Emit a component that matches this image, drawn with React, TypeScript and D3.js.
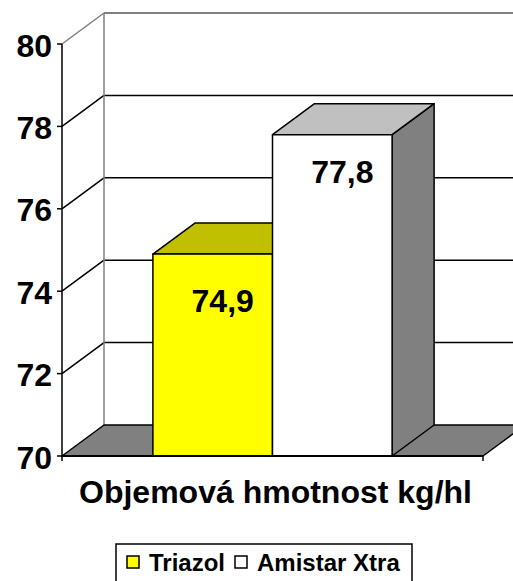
import React from "react";
import * as d3 from "d3";

const categories = ["Objemová hmotnost kg/hl"];
const seriesNames = ["Triazol", "Amistar Xtra"];
const seriesValues = [74.9, 77.8];
const valueLabels = ["74,9", "77,8"];
const yTicks = [70, 72, 74, 76, 78, 80];

const W = 513;
const H = 581;
const FONT = "'Liberation Sans', Arial, Helvetica, sans-serif";
const frontFill = ["#ffff00", "#ffffff"];
const topFill = ["#c0c000", "#c0c0c0"];
const sideFill = ["#808080", "#808080"];

const DX = 42;
const DY = -31;

export default function App() {
  const x0 = 62;
  const x1 = 483;
  const y = d3.scaleLinear().domain([70, 80]).range([456, 44]);
  const xCat = d3.scaleBand<string>().domain(categories).range([x0, x1]);
  const xSer = d3
    .scaleBand<string>()
    .domain(seriesNames)
    .range([xCat(categories[0])!, xCat(categories[0])! + xCat.bandwidth()])
    .paddingInner(0)
    .paddingOuter(0.76);

  const yBase = y(70);
  const yTop = y(80);
  const pts = (a: [number, number][]) => a.map((p) => p.join(",")).join(" ");

  return (
    <svg
      width={W}
      height={H}
      style={{ position: "absolute", left: 0, top: 0, background: "#fff" }}
      fontFamily={FONT}
    >
      {/* back wall & side wall */}
      <rect x={x0 + DX} y={yTop + DY} width={W} height={yBase - yTop} fill="#fff" />
      {/* gridlines */}
      {yTicks.slice(1, -1).map((t) => (
        <g key={t}>
          <line x1={x0} y1={y(t)} x2={x0 + DX} y2={y(t) + DY} stroke="#000" strokeWidth={1.5} />
          <line x1={x0 + DX} y1={y(t) + DY} x2={W + 20} y2={y(t) + DY} stroke="#000" strokeWidth={1.5} />
        </g>
      ))}
      {/* wall edges (gray) */}
      <line x1={x0} y1={yTop} x2={x0 + DX} y2={yTop + DY} stroke="#808080" strokeWidth={1.5} />
      <line x1={x0 + DX} y1={yTop + DY} x2={W + 20} y2={yTop + DY} stroke="#808080" strokeWidth={2} />
      <line x1={x0 + DX} y1={yTop + DY} x2={x0 + DX} y2={yBase + DY} stroke="#808080" strokeWidth={1.5} />
      {/* floor */}
      <polygon
        points={pts([
          [x0, yBase],
          [x0 + DX, yBase + DY],
          [x1 + DX, yBase + DY],
          [x1, yBase],
        ])}
        fill="#808080"
        stroke="#000"
        strokeWidth={1.5}
        strokeLinejoin="round"
      />
      {/* bars */}
      {seriesNames.map((s, i) => {
        const bx = xSer(s)!;
        const bw = xSer.bandwidth();
        const by = y(seriesValues[i]);
        return (
          <g key={s} stroke="#000" strokeWidth={1.5} strokeLinejoin="round">
            <polygon
              points={pts([
                [bx + bw, by],
                [bx + bw + DX, by + DY],
                [bx + bw + DX, yBase + DY],
                [bx + bw, yBase],
              ])}
              fill={sideFill[i]}
            />
            <polygon
              points={pts([
                [bx, by],
                [bx + DX, by + DY],
                [bx + bw + DX, by + DY],
                [bx + bw, by],
              ])}
              fill={topFill[i]}
            />
            <rect x={bx} y={by} width={bw} height={yBase - by} fill={frontFill[i]} />
          </g>
        );
      })}
      {seriesNames.map((s, i) => {
        const by = y(seriesValues[i]);
        const h = yBase - by;
        return (
          <text
            key={s}
            x={xSer(s)! + xSer.bandwidth() / 2 + 10}
            y={by + 74 - 0.08 * h}
            textAnchor="middle"
            fontSize={32}
            fontWeight="bold"
          >
            {valueLabels[i]}
          </text>
        );
      })}
      {/* axis */}
      <line x1={x0} y1={yTop} x2={x0} y2={yBase + 5} stroke="#000" strokeWidth={1.5} />
      <line x1={x0} y1={yBase} x2={x1} y2={yBase} stroke="#000" strokeWidth={2} />
      <line x1={x1} y1={yBase} x2={x1} y2={yBase + 5} stroke="#000" strokeWidth={1.5} />
      {yTicks.map((t) => (
        <g key={t}>
          <line x1={x0 - 5} y1={y(t)} x2={x0} y2={y(t)} stroke="#000" strokeWidth={1.5} />
          <text x={52} y={y(t) + 12.5} textAnchor="end" fontSize={32} fontWeight="bold">
            {t}
          </text>
        </g>
      ))}
      {/* category title */}
      <text
        x={xCat(categories[0])! + xCat.bandwidth() / 2 + 3}
        y={503}
        textAnchor="middle"
        fontSize={32}
        fontWeight="bold"
      >
        {categories[0]}
      </text>
      {/* legend */}
      <rect x={116} y={544} width={296} height={50} fill="#fff" stroke="#000" strokeWidth={1.5} />
      {seriesNames.map((s, i) => {
        const lx = i === 0 ? 127 : 235;
        return (
          <g key={s}>
            <rect x={lx} y={556} width={12} height={12} fill={frontFill[i]} stroke="#000" strokeWidth={1.5} />
            <text x={lx + 22} y={571} fontSize={24} fontWeight="bold">
              {s}
            </text>
          </g>
        );
      })}
    </svg>
  );
}
